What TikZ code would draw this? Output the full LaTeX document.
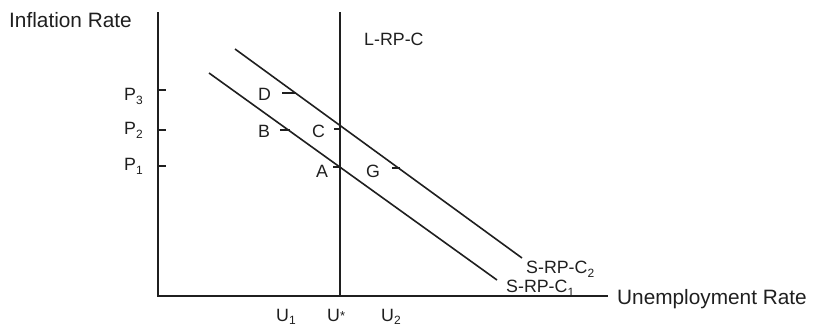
\documentclass[tikz,border=0pt]{standalone}
\usepackage{fontspec}
\setmainfont{Liberation Sans}
\newcommand\sbs[1]{\raisebox{-4pt}{\fontsize{12}{12}\selectfont #1}}
\newcommand\usbs[1]{\raisebox{-3pt}{\fontsize{12}{12}\selectfont #1}}
\begin{document}
\begin{tikzpicture}[x=1pt,y=-1pt,
  ln/.style={line width=1.6pt, draw=black!88},
  tk/.style={line width=1.4pt, draw=black!88},
  lbl/.style={inner sep=0pt, anchor=base west, font=\fontsize{17.8}{20}\selectfont, text=black!88},
  axlbl/.style={lbl, font=\fontsize{20.8}{24}\selectfont}]
\useasboundingbox (0,0) rectangle (813,327);
% axes and long-run curve
\coordinate (O) at (158,296);
\coordinate (Ytop) at (158,12);
\coordinate (Xend) at (608,296);
\coordinate (Ltop) at (340,12);
\coordinate (Lbot) at (340,296);
\draw[ln] (Ytop) -- (O) -- (Xend);
\draw[ln] (Ltop) -- (Lbot);
% short-run curves
\coordinate (c1s) at (209,73);
\coordinate (c1e) at (497,280);
\coordinate (c2s) at (235,49);
\coordinate (c2e) at (522,258);
\draw[ln] (c1s) -- (c1e);
\draw[ln] (c2s) -- (c2e);
% y-axis ticks
\coordinate (p3a) at (158,90);  \coordinate (p3b) at (166,90);
\coordinate (p2a) at (158,130); \coordinate (p2b) at (166,130);
\coordinate (p1a) at (158,166); \coordinate (p1b) at (166,166);
\draw[tk] (p3a) -- (p3b);
\draw[tk] (p2a) -- (p2b);
\draw[tk] (p1a) -- (p1b);
% point ticks
\coordinate (da) at (282,93);  \coordinate (db) at (295,93);
\coordinate (ba) at (280,130); \coordinate (bb) at (290,130);
\coordinate (ca) at (334,129); \coordinate (cb) at (340,129);
\coordinate (aa) at (333,167); \coordinate (ab) at (340,167);
\coordinate (ga) at (392,168); \coordinate (gb) at (400,168);
\draw[tk] (da) -- (db);
\draw[tk] (ba) -- (bb);
\draw[tk] (ca) -- (cb);
\draw[tk] (aa) -- (ab);
\draw[tk] (ga) -- (gb);
% labels
\node[axlbl] (ylab) at (9,27) {Inflation Rate};
\node[axlbl] (xlab) at (617,304) {Unemployment Rate};
\node[lbl] (lrpc) at (364,45) {L-RP-C};
\node[lbl] (src2) at (526,273) {S-RP-C\sbs{2}};
\node[lbl] (src1) at (506,292) {S-RP-C\sbs{1}};
\node[lbl] (P3) at (124,100) {P\sbs{3}};
\node[lbl] (P2) at (124,134) {P\sbs{2}};
\node[lbl] (P1) at (124,170) {P\sbs{1}};
\node[lbl] (D) at (258,100) {D};
\node[lbl] (B) at (258,137) {B};
\node[lbl] (C) at (312,137) {C};
\node[lbl] (A) at (316,177) {A};
\node[lbl] (G) at (366,177) {G};
\node[lbl] (U1) at (276,321) {U\usbs{1}};
\node[lbl] (Us) at (327,321) {U\raisebox{1pt}{\fontsize{13}{13}\selectfont *}};
\node[lbl] (U2) at (381,321) {U\usbs{2}};
\end{tikzpicture}
\end{document}
